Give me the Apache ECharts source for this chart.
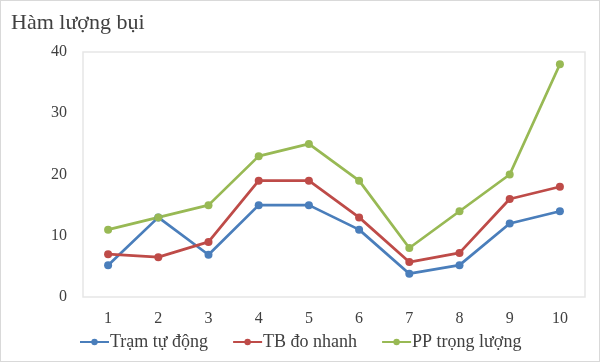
<!DOCTYPE html>
<html><head><meta charset="utf-8">
<script src="https://cdn.jsdelivr.net/npm/echarts@6/dist/echarts.min.js"></script>
<style>html,body{margin:0;padding:0;background:#fff}#c{width:600px;height:362px;box-sizing:border-box;border:1px solid #d9d9d9}</style>
</head><body><div id="c"></div>
<script>
const categories = ['1','2','3','4','5','6','7','8','9','10'];
const tramTuDong = [5.2, 13, 6.9, 15, 15, 11, 3.8, 5.2, 12, 14];
const tbDoNhanh = [7, 6.5, 9, 19, 19, 13, 5.7, 7.2, 16, 18];
const ppTrongLuong = [11, 13, 15, 23, 25, 19, 8, 14, 20, 38];
const seriesNames = ['Trạm tự động', 'TB đo nhanh', 'PP trọng lượng'];
const colors = ['#4a7ebb', '#be4b48', '#98b954'];
const font = 'Liberation Serif';
const chart = echarts.init(document.getElementById('c'));
const mk = (name, data, color) => ({
  name, type: 'line', data, color,
  symbol: 'circle', symbolSize: 8,
  lineStyle: { width: 2.75, color },
  itemStyle: { color }
});
chart.setOption({
  animation: false,
  textStyle: { fontFamily: font },
  title: { text: 'Hàm lượng bụi', left: 5, top: 6,
    textStyle: { fontFamily: font, fontSize: 22, fontWeight: 'normal', color: '#404040' } },
  grid: { left: 82, right: 14, top: 51, bottom: 64, show: true, borderColor: '#e6e6e6', borderWidth: 1.5 },
  legend: { bottom: 5, left: 73, itemWidth: 29, itemHeight: 8, itemGap: 24,
    textStyle: { fontFamily: font, fontSize: 18, color: '#404040', padding: [0, 0, 0, -4] }, data: seriesNames },
  xAxis: { type: 'category', data: categories, boundaryGap: true,
    axisLine: { show: false }, axisTick: { show: false },
    axisLabel: { fontFamily: font, fontSize: 16, color: '#404040', margin: 14 } },
  yAxis: { type: 'value', min: 0, max: 40, interval: 10,
    splitLine: { show: false }, axisLine: { show: false }, axisTick: { show: false },
    axisLabel: { fontFamily: font, fontSize: 16, color: '#404040', margin: 16 } },
  series: [mk(seriesNames[0], tramTuDong, colors[0]), mk(seriesNames[1], tbDoNhanh, colors[1]), mk(seriesNames[2], ppTrongLuong, colors[2])]
});
</script></body></html>
